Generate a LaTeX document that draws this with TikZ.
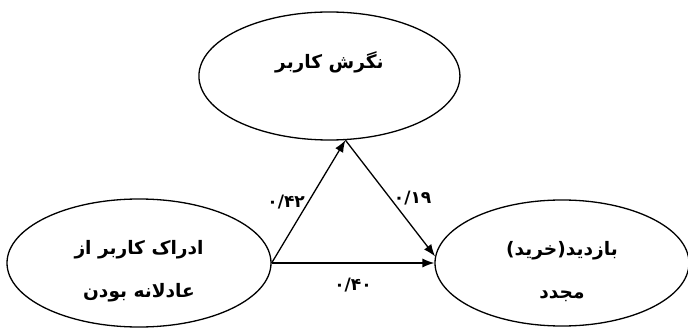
\documentclass[tikz,border=0pt]{standalone}
\usepackage{fontspec}
\usepackage{tikz}
\usetikzlibrary{arrows.meta,shapes.geometric}
\TeXXeTstate=1
\newfontfamily\arabicfont[Script=Arabic]{DejaVu Sans}

\begin{document}
\begin{tikzpicture}[
  >={Latex[length=4.2mm,width=3.2mm]},
  varnode/.style={draw=black,ellipse,line width=1.3pt,fill=white,inner sep=0pt,font=\arabicfont\bfseries\fontsize{18.5}{43}\selectfont,align=center,minimum width=9.2cm,minimum height=4.48cm},
  coef/.style={font=\arabicfont\bfseries\fontsize{17}{18}\selectfont,inner sep=3pt},
  ar/.style={->,line width=1.3pt,black}
]
\useasboundingbox (0,0) rectangle (24.08,11.515);

% TOP: mediator
\node[varnode,minimum width=9.135cm,text depth=31pt] (attitude) at (11.53,8.855) {\beginR نگرش کاربر\endR};

% BOTTOM: predictor and outcome
\node[varnode,minimum width=9.24cm,text height=74pt] (fairness) at (4.865,2.31) {\beginR ادراک کاربر از\endR\\\beginR عادلانه بودن\endR};
\node[varnode,minimum width=8.89cm,minimum height=4.41cm,text height=74pt] (revisit) at (19.67,2.31) {\beginR بازدید(خرید)\endR\\\beginR مجدد\endR};

% paths with coefficients
\draw[ar] (fairness.east) -- (attitude.-76) node[coef,midway,left] {۰/۴۲};
\draw[ar] (attitude.-76) -- (revisit.177) node[coef,midway,right] {۰/۱۹};
\draw[ar] (fairness.east) -- (revisit.west) node[coef,midway,below=11pt] {۰/۴۰};
\end{tikzpicture}
\end{document}
